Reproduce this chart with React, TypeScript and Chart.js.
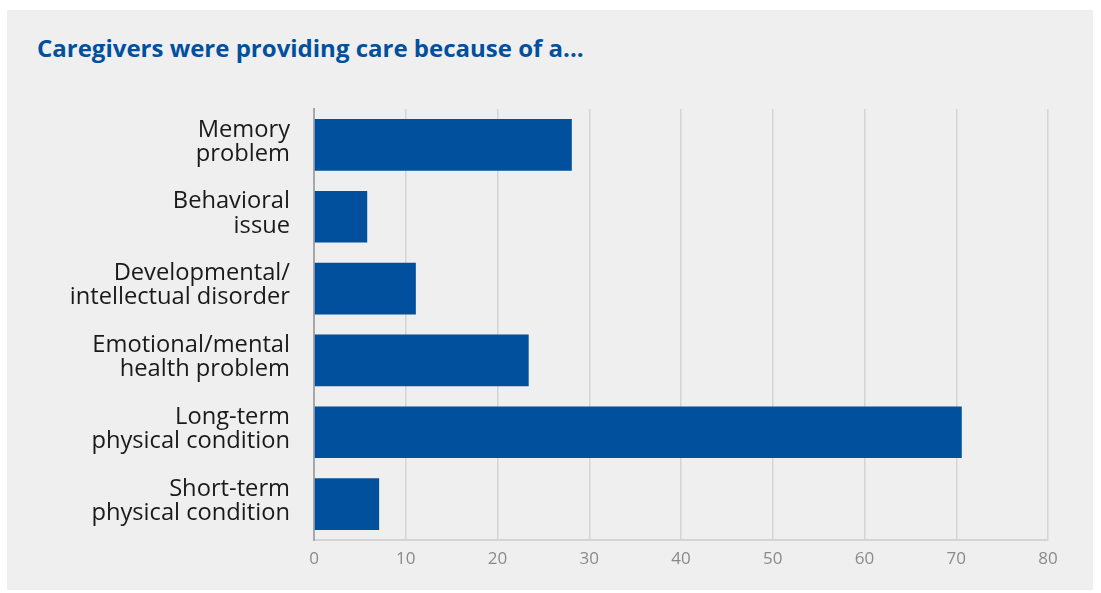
import React, { useEffect, useRef } from "react";
import { Chart, registerables } from "chart.js";

Chart.register(...registerables);

const categories: string[][] = [
  ["Memory", "problem"],
  ["Behavioral", "issue"],
  ["Developmental/", "intellectual disorder"],
  ["Emotional/mental", "health problem"],
  ["Long-term", "physical condition"],
  ["Short-term", "physical condition"],
];
const values: number[] = [28.1, 5.8, 11.1, 23.4, 70.6, 7.1];
const xTicks: number[] = [0, 10, 20, 30, 40, 50, 60, 70, 80];
const title = "Caregivers were providing care because of a...";

export default function App() {
  const ref = useRef<HTMLCanvasElement | null>(null);

  useEffect(() => {
    if (!ref.current) return;
    const chart = new Chart(ref.current, {
      type: "bar",
      data: {
        labels: categories,
        datasets: [
          {
            data: values,
            backgroundColor: "#00509e",
            borderWidth: 0,
            barPercentage: 0.72,
            categoryPercentage: 1,
          },
        ],
      },
      options: {
        indexAxis: "y",
        animation: false,
        responsive: false,
        maintainAspectRatio: false,
        layout: { padding: { top: 99, right: 45, left: 0, bottom: 0 } },
        plugins: {
          legend: { display: false },
          tooltip: { enabled: false },
          title: { display: false },
        },
        scales: {
          x: {
            min: 0,
            max: 80,
            afterBuildTicks: (scale: any) => {
              scale.ticks = xTicks.map((v) => ({ value: v }));
            },
            afterFit: (scale: any) => {
              scale.height = 50;
            },
            grid: {
              color: "#d4d4d4",
              lineWidth: 1.5,
              drawTicks: false,
            },
            border: { color: "#d4d4d4", width: 2 },
            ticks: {
              color: "#8a8a8a",
              padding: 9,
              font: { family: "'Open Sans'", size: 17 },
            },
          },
          y: {
            afterFit: (scale: any) => {
              scale.width = 307;
            },
            grid: { display: false, drawTicks: false },
            border: { color: "#a8a8a8", width: 2 },
            ticks: {
              color: "#1a1a1a",
              padding: 24,
              labelOffset: -3,
              font: { family: "'Open Sans'", size: 23.7, lineHeight: 1.02 },
            },
          },
        },
      },
    });
    return () => chart.destroy();
  }, []);

  return (
    <div
      style={{
        position: "absolute",
        left: 0,
        top: 0,
        width: 1101,
        height: 593,
        background: "#ffffff",
      }}
    >
      <div
        style={{
          position: "absolute",
          left: 7,
          top: 10,
          width: 1086,
          height: 580,
          background: "#efefef",
        }}
      >
        <div
          style={{
            position: "absolute",
            left: 30,
            top: 21,
            fontFamily: "'Open Sans'",
            fontWeight: 700,
            fontSize: 24,
            color: "#00509e",
            lineHeight: "34px",
            whiteSpace: "nowrap",
          }}
        >
          {title}
        </div>
        <canvas
          ref={ref}
          width={1086}
          height={580}
          style={{ position: "absolute", left: 0, top: 0, width: 1086, height: 580 }}
        />
      </div>
    </div>
  );
}
